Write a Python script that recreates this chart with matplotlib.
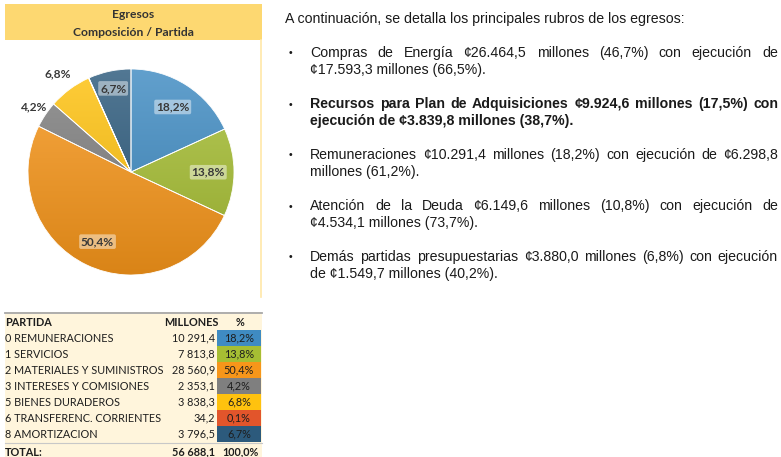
import numpy as np
import matplotlib.pyplot as plt
from matplotlib.patches import Rectangle
from matplotlib.colors import LinearSegmentedColormap, to_rgb

# Budget items (millions of colones)
partidas = ["0 REMUNERACIONES", "1 SERVICIOS", "2 MATERIALES Y SUMINISTROS",
            "3 INTERESES Y COMISIONES", "5 BIENES DURADEROS",
            "6 TRANSFERENC. CORRIENTES", "8 AMORTIZACION"]
millones = [10291.4, 7813.8, 28560.9, 2353.1, 3838.3, 34.2, 3796.5]
total_millones = 56688.1
colores = ["#3F8BC2", "#A6BE33", "#F7961A", "#7F7F7F", "#FFC20E", "#E2552B", "#2C5A7C"]

titulo = ["Egresos", "Composición / Partida"]
intro = "A continuación, se detalla los principales rubros de los egresos:"
parrafos = [
    ("Compras de Energía ¢26.464,5 millones (46,7%) con ejecución de",
     "¢17.593,3 millones (66,5%).", "normal"),
    ("Recursos para Plan de Adquisiciones ¢9.924,6 millones (17,5%) con",
     "ejecución de ¢3.839,8 millones (38,7%).", "bold"),
    ("Remuneraciones ¢10.291,4 millones (18,2%) con ejecución de ¢6.298,8",
     "millones (61,2%).", "normal"),
    ("Atención de la Deuda ¢6.149,6 millones (10,8%) con ejecución de",
     "¢4.534,1 millones (73,7%).", "normal"),
    ("Demás partidas presupuestarias ¢3.880,0 millones (6,8%) con ejecución",
     "de ¢1.549,7 millones (40,2%).", "normal"),
]

porcentajes = [v / total_millones * 100 for v in millones]


def num_es(v, dec=1):
    s = f"{v:,.{dec}f}"
    return s.replace(",", " ").replace(".", ",")


W, H = 781, 457
fig = plt.figure(figsize=(W / 100, H / 100), dpi=100)
fig.patch.set_facecolor("white")

# full-figure axes in pixel units for the table and the text
bg = fig.add_axes([0, 0, 1, 1])
bg.set_xlim(0, W)
bg.set_ylim(H, 0)
bg.axis("off")

cal = "Lato"
ink = "#1E1E1E"

# header band
bg.add_patch(Rectangle((5, 4), 257, 36, fc="#FDD871", ec="none"))
bg.text(133, 15, titulo[0], ha="center", va="center", fontsize=8.7,
        fontweight="bold", family=cal, color="#333333")
bg.text(133, 32, titulo[1], ha="center", va="center", fontsize=8.7,
        fontweight="bold", family=cal, color="#333333")
bg.plot([261, 261], [40, 297], color="#FFE7A8", lw=1.2)

# pie
cx, cy, r = 131, 172, 103
pax = fig.add_axes([(cx - r) / W, (H - cy - r) / H, 2 * r / W, 2 * r / H])
wedges, _ = pax.pie(millones, colors=colores, startangle=90, counterclock=False,
                    wedgeprops=dict(edgecolor="white", linewidth=0.6))

# vertical shading on each slice
grad = np.linspace(0, 1, 256).reshape(-1, 1)
for w, c in zip(wedges, colores):
    base = np.array(to_rgb(c))
    top = base + (1 - base) * 0.18
    bot = base * 0.88
    cmap = LinearSegmentedColormap.from_list("g", [bot, top])
    im = pax.imshow(grad, cmap=cmap, extent=(-1, 1, -1, 1), origin="lower",
                    aspect="auto", zorder=0.5)
    im.set_clip_path(w)
    w.set_facecolor("none")
    w.set_zorder(2)
pax.set_xlim(-1, 1)
pax.set_ylim(-1, 1)
pax.axis("off")

label_r = [0.75, 0.75, 0.75, 1.13, 1.19, None, 0.83]
for w, p, lr in zip(wedges, porcentajes, label_r):
    if lr is None:
        continue
    ang = np.deg2rad((w.theta1 + w.theta2) / 2)
    inside = lr < 1
    box = dict(boxstyle="round,pad=0.15", fc="white", ec="none", alpha=0.45) if inside else None
    pax.text(lr * np.cos(ang), lr * np.sin(ang), num_es(p) + "%", ha="center",
             va="center", fontsize=8.6, fontweight="bold", family=cal,
             color="#383838", bbox=box, zorder=4, clip_on=False)

# table
tfs = 7.8
bg.add_patch(Rectangle((5, 312), 257, 145, fc="#FFF5DC", ec="none"))
bg.plot([5, 262], [313, 313], color="#A8A8A8", lw=1.3)
bg.plot([5, 262], [443, 443], color="#C8C8C8", lw=0.8)
bg.text(5, 322, "PARTIDA", ha="left", va="center", fontsize=tfs, fontweight="bold",
        family=cal, color=ink)
bg.text(191, 322, "MILLONES", ha="center", va="center", fontsize=tfs,
        fontweight="bold", family=cal, color=ink)
bg.text(240, 322, "%", ha="center", va="center", fontsize=tfs, fontweight="bold",
        family=cal, color=ink)
for i, (nom, v, p, c) in enumerate(zip(partidas, millones, porcentajes, colores)):
    y = 338 + 16 * i
    bg.add_patch(Rectangle((217, y - 8), 44, 16, fc=c, ec="none"))
    bg.text(5, y, nom, ha="left", va="center", fontsize=tfs, family=cal, color=ink)
    bg.text(215, y, num_es(v), ha="right", va="center", fontsize=tfs, family=cal,
            color=ink)
    bg.text(239, y, num_es(p) + "%", ha="center", va="center", fontsize=tfs,
            family=cal, color=ink)
bg.text(5, 452, "TOTAL:", ha="left", va="center", fontsize=tfs, fontweight="bold",
        family=cal, color=ink)
bg.text(215, 452, num_es(total_millones), ha="right", va="center", fontsize=tfs,
        fontweight="bold", family=cal, color=ink)
bg.text(240, 452, num_es(100.0) + "%", ha="center", va="center", fontsize=tfs,
        fontweight="bold", family=cal, color=ink)

# text column
arial = "Liberation Sans"
fs = 10.2
rend = fig.canvas.get_renderer()


def justified(line, x0, x1, y, weight):
    words = line.split(" ")
    txt = [bg.text(x0, y, wd, ha="left", va="baseline", fontsize=fs,
                   family=arial, fontweight=weight, color="#1A1A1A") for wd in words]
    widths = [t.get_window_extent(rend).width for t in txt]
    gap = (x1 - x0 - sum(widths)) / (len(words) - 1)
    x = x0
    for t, wd in zip(txt, widths):
        t.set_x(x)
        x += wd + gap


bg.text(285, 23, intro, ha="left", va="baseline", fontsize=fs, family=arial,
        color="#1A1A1A")
for k, (l1, l2, weight) in enumerate(parrafos):
    y = 57 + 51 * k
    bg.text(290, y - 3.5, "•", ha="center", va="center", fontsize=7.5,
            family=arial, color="#1A1A1A")
    justified(l1, 310, 778, y, weight)
    bg.text(310, y + 17, l2, ha="left", va="baseline", fontsize=fs, family=arial,
            fontweight=weight, color="#1A1A1A")

fig.savefig("out.png", dpi=100)
